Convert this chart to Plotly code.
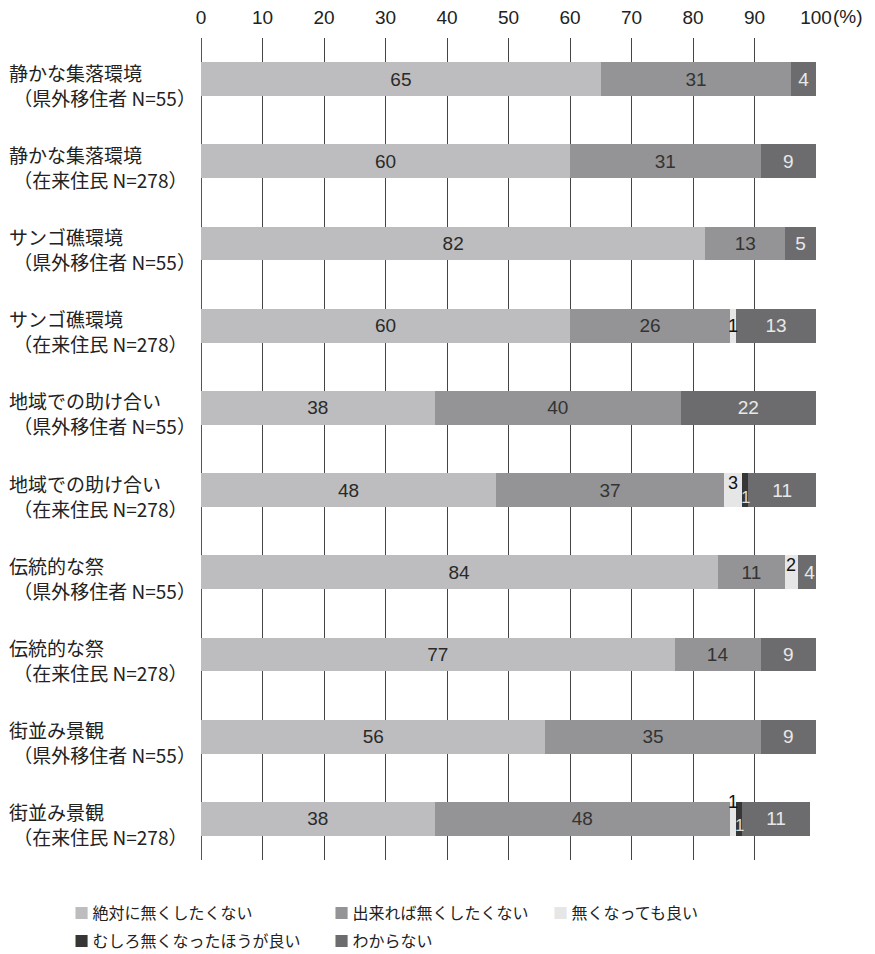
import plotly.graph_objects as go

# Survey items and respondent groups (top to bottom)
items = ["静かな集落環境", "静かな集落環境", "サンゴ礁環境", "サンゴ礁環境",
         "地域での助け合い", "地域での助け合い", "伝統的な祭", "伝統的な祭",
         "街並み景観", "街並み景観"]
groups = ["県外移住者 N=55", "在来住民 N=278"] * 5

# Response shares (%)
series_names = ["絶対に無くしたくない", "出来れば無くしたくない", "無くなっても良い",
                "むしろ無くなったほうが良い", "わからない"]
absolutely_keep = [65, 60, 82, 60, 38, 48, 84, 77, 56, 38]
prefer_keep = [31, 31, 13, 26, 40, 37, 11, 14, 35, 48]
ok_to_lose = [0, 0, 0, 1, 0, 3, 2, 0, 0, 1]
better_lost = [0, 0, 0, 0, 0, 1, 0, 0, 0, 1]
dont_know = [4, 9, 5, 13, 22, 11, 4, 9, 9, 11]

x_ticks = [0, 10, 20, 30, 40, 50, 60, 70, 80, 90, 100]

series = [absolutely_keep, prefer_keep, ok_to_lose, better_lost, dont_know]
colors = ["#bdbdbf", "#949496", "#e6e6e6", "#363636", "#6c6c6e"]
text_colors = ["#2a2a2a", "#333333", "#222222", "#eeeeee", "#e8e8e8"]

FONT = "Noto Sans CJK JP, Liberation Sans, Arial, sans-serif"
NUM_FONT = "Liberation Sans, Arial, sans-serif"
keys = [f"{i}｜{g}" for i, g in zip(items, groups)]

fig = go.Figure()
for name, vals, col, tcol in zip(series_names, series, colors, text_colors):
    fig.add_trace(go.Bar(
        y=keys, x=vals, name=name, orientation="h",
        marker=dict(color=col, line=dict(width=0)),
        width=0.41,
        text=[str(v) if v >= 4 else "" for v in vals],
        textposition="inside", insidetextanchor="middle", textangle=0,
        textfont=dict(family=NUM_FONT, size=19, color=tcol),
        constraintext="none",
        showlegend=False,
        hoverinfo="x+name",
    ))

annotations = []
label_x = -201 / 616 + 7 / 616

# Row labels on the left: item name, then group in parentheses
for k, it, g in zip(keys, items, groups):
    annotations.append(dict(
        xref="paper", yref="y", x=label_x, y=k,
        xanchor="left", yanchor="middle", align="left", yshift=7,
        text=it, showarrow=False,
        font=dict(family=FONT, size=19, color="#222222"),
    ))
    annotations.append(dict(
        xref="paper", yref="y", x=label_x, y=k,
        xanchor="left", yanchor="middle", align="left", yshift=-18,
        text=f"\u00a0（{g}）", showarrow=False,
        font=dict(family=FONT, size=19, color="#222222"),
    ))

# Small segments labelled around the bar centre
for idx in range(len(keys)):
    base_ok = absolutely_keep[idx] + prefer_keep[idx]
    if ok_to_lose[idx] > 0:
        v = ok_to_lose[idx]
        if better_lost[idx] > 0 and v == 1:
            shift = 17
        elif v == 1:
            shift = 0
        else:
            shift = 7
        annotations.append(dict(
            x=base_ok + v / 2, y=keys[idx], xref="x", yref="y",
            text=str(v), showarrow=False, yshift=shift,
            font=dict(family=NUM_FONT, size=18, color="#111111"),
        ))
    if better_lost[idx] > 0:
        v = better_lost[idx]
        annotations.append(dict(
            x=base_ok + ok_to_lose[idx] + v / 2, y=keys[idx], xref="x", yref="y",
            text=str(v), showarrow=False, yshift=-7,
            font=dict(family=NUM_FONT, size=17, color="#dddddd"),
        ))

# Unit next to the 100 tick
annotations.append(dict(
    xref="x", yref="paper", x=100, y=1, xanchor="left", yanchor="middle",
    xshift=15, yshift=22, text="(%)", showarrow=False,
    font=dict(family=NUM_FONT, size=19, color="#222222"),
))

# Legend drawn as two rows of coloured squares with labels
legend_pos = [(72, 912), (332, 912), (552, 912), (72, 940), (332, 940)]
for (px, py), name, col in zip(legend_pos, series_names, colors):
    annotations.append(dict(
        xref="paper", yref="paper",
        x=(px - 201) / 616, y=(860 - py) / 822,
        xanchor="left", yanchor="middle", showarrow=False,
        text=f"<span style='color:{col}; font-size:15px'>■</span> {name}",
        font=dict(family=FONT, size=16, color="#222222"),
    ))

fig.update_layout(
    width=875, height=954,
    margin=dict(l=201, r=59, t=38, b=94, autoexpand=False),
    paper_bgcolor="white", plot_bgcolor="white",
    barmode="stack",
    annotations=annotations,
    xaxis=dict(
        side="top", range=[0, 100], tickvals=x_ticks,
        ticktext=[str(t) for t in x_ticks],
        showgrid=True, gridcolor="#444444", gridwidth=1,
        zeroline=True, zerolinecolor="#555555", zerolinewidth=1,
        showline=False, ticks="",
        ticklabelstandoff=9, automargin=False,
        tickfont=dict(family=NUM_FONT, size=19, color="#222222"),
        fixedrange=True, layer="below traces",
    ),
    yaxis=dict(
        categoryorder="array", categoryarray=keys, autorange="reversed",
        showticklabels=False, showgrid=False, zeroline=False, showline=False,
        range=[9.5, -0.5], automargin=False,
    ),
)

fig.write_html("out.html")
